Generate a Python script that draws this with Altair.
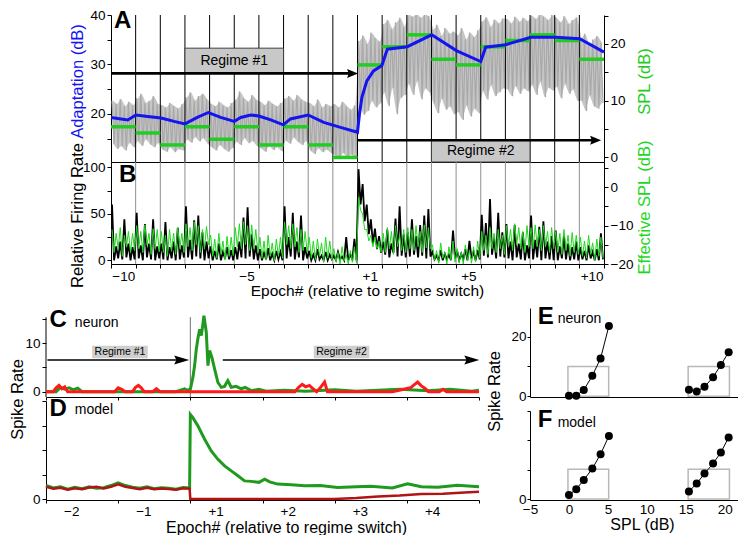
import altair as alt
import pandas as pd

FONT = "Liberation Sans"
BLUE = "#1414f0"
GREEN_A = "#22cc22"
GREEN_B = "#1ed81e"
GREEN_C = "#1f9a1f"
RED_C = "#ff1a1a"
RED_D = "#b01414"

# ---------------- Panel A : stimulus SPL (gray envelope, 6 samples / epoch) ----------------
a_gray_hi = [
    10.0, 9.4, 10.3, 9.0, 9.8, 9.2,
    10.4, 11.2, 9.6, 10.0, 10.8, 9.4,
    9.2, 8.8, 9.6, 9.0, 8.6, 9.4,
    10.6, 11.5, 10.0, 10.8, 11.2, 10.2,
    9.4, 9.0, 9.8, 9.2, 8.8, 9.6,
    10.2, 11.6, 10.4, 9.8, 11.0, 10.1,
    9.8, 9.2, 10.0, 9.4, 9.0, 9.6,
    10.4, 10.8, 10.0, 11.0, 10.2, 9.8,
    9.6, 9.0, 10.2, 8.8, 9.4, 9.0,
    9.4, 8.8, 9.8, 9.0, 8.4, 9.2,
    20.5, 21.5, 20.0, 22.0, 21.0, 20.4,
    23.5, 24.2, 22.6, 23.8, 24.6, 23.0,
    25.2, 24.8, 25.3, 24.6, 25.2, 24.9,
    22.5, 23.4, 21.4, 22.8, 21.8, 22.2,
    21.5, 22.8, 20.8, 22.0, 21.2, 22.4,
    24.0, 24.7, 23.0, 24.3, 23.6, 24.5,
    24.4, 23.6, 24.8, 23.9, 24.6, 24.0,
    25.0, 24.4, 25.3, 24.8, 24.2, 25.1,
    24.6, 23.8, 24.9, 23.5, 24.2, 24.7,
    21.0, 21.8, 19.6, 20.8, 21.4, 20.2,
]
a_gray_lo = [
    2.4, 1.5, 2.0, 1.2, 2.6, 1.8,
    2.9, 2.0, 3.2, 2.3, 1.8, 2.6,
    1.4, 1.0, 1.8, 0.9, 1.5, 1.2,
    3.2, 2.6, 3.6, 2.8, 3.4, 2.4,
    1.8, 1.2, 2.2, 1.5, 1.0, 1.6,
    2.8, 2.2, 3.4, 2.5, 2.9, 2.0,
    1.6, 1.0, 2.0, 1.3, 1.8, 1.1,
    3.0, 2.4, 3.5, 2.7, 2.2, 2.9,
    1.2, 0.6, 1.6, 0.9, 1.4, 0.8,
    0.4, -0.3, 0.8, 0.0, 0.5, -0.2,
    9.0, 7.5, 8.2, 10.0, 8.8, 9.5,
    11.5, 9.0, 12.3, 7.6, 10.5, 11.0,
    13.0, 11.0, 13.5, 10.2, 12.2, 11.5,
    9.5, 7.8, 10.4, 8.4, 9.0, 7.6,
    8.0, 6.6, 9.2, 7.2, 8.6, 7.8,
    11.8, 10.2, 12.8, 10.8, 11.5, 12.2,
    12.0, 10.8, 12.6, 11.2, 12.2, 11.6,
    12.8, 11.0, 13.4, 10.6, 12.3, 11.8,
    12.5, 10.4, 13.0, 11.2, 12.0, 10.0,
    10.0, 8.2, 11.0, 9.0, 8.6, 9.6,
]
a_green_spl = [5.4, 4.3, 2.2, 5.4, 3.2, 5.4, 2.2, 5.4, 2.2, 0.0,
               16.3, 19.5, 21.6, 17.3, 16.3, 19.5, 20.6, 21.6, 20.6, 17.3]
a_blue_x = [0.0, 0.41, 0.68, 1.01, 1.49, 2.03, 2.56, 3.0, 3.5, 3.95, 4.45, 5.0, 5.26,
            5.67, 6.0, 6.48, 6.99, 7.28, 8.0, 8.63, 9.31, 10.0, 10.08, 10.18, 10.38,
            10.65, 10.99, 11.21, 12.02, 13.01, 14.01, 15.0, 15.2, 16.01, 17.03, 18.04,
            19.01, 20.0]
a_blue_y = [19.3, 19.0, 18.8, 19.8, 19.5, 19.2, 18.5, 18.0, 19.3, 20.3, 19.3, 18.5, 19.3,
            19.8, 19.6, 18.8, 17.8, 19.0, 19.8, 18.3, 17.3, 16.3, 20.0, 23.4, 26.7,
            28.7, 29.8, 33.1, 33.6, 36.0, 32.8, 30.6, 33.5, 34.0, 35.5, 35.5,
            35.2, 32.5]
regime_names = ["Regime #1", "Regime #2"]
a_arrow_x = [0.0, 10.0]
a_arrow_x2 = [9.8, 19.66]
a_arrow_y = [28.2, 14.7]
a_box_x = [3.0, 13.0]
a_box_x2 = [7.0, 17.0]
a_box_y = [28.3, 10.3]
a_box_y2 = [33.3, 14.75]

# ---------------- Panel B ----------------
b_black_hi = [
    60, 15, 20, 44, 18, 14,
    51, 16, 39, 18, 44, 15,
    18, 41, 14, 20, 35, 16,
    58, 22, 43, 48, 30, 20,
    15, 10, 18, 9, 14, 11,
    14, 20, 46, 57, 28, 16,
    12, 8, 13, 7, 10, 9,
    58, 25, 51, 20, 48, 14,
    10, 6, 12, 5, 9, 6,
    5, 9, 4, 25, 6, 23,
    98, 82, 60, 44, 34, 26,
    20, 33, 18, 45, 58, 28,
    30, 44, 26, 38, 48, 55,
    9, 5, 11, 7, 6, 32,
    10, 7, 12, 21, 9, 11,
    49, 40, 66, 24, 51, 30,
    39, 20, 38, 18, 30, 16,
    48, 22, 36, 42, 20, 26,
    32, 15, 26, 18, 14, 20,
    14, 10, 16, 9, 12, 29,
]
b_black_lo = [
    0, 2, 1, 3, 0, 1,
    2, 0, 3, 1, 0, 2,
    1, 0, 2, 0, 1, 3,
    3, 1, 4, 2, 0, 2,
    0, 1, 0, 2, 1, 0,
    1, 3, 2, 4, 1, 0,
    0, 1, 0, 0, 1, 0,
    2, 4, 1, 3, 0, 2,
    0, 0, 1, 0, 0, 1,
    0, 1, 0, 0, 1, 0,
    60, 42, 28, 18, 12, 8,
    6, 3, 8, 4, 5, 3,
    4, 6, 3, 5, 2, 4,
    1, 0, 0, 1, 0, 2,
    0, 1, 0, 2, 0, 1,
    5, 3, 6, 2, 4, 3,
    2, 0, 3, 1, 0, 2,
    1, 3, 0, 2, 1, 0,
    0, 2, 1, 0, 1, 0,
    1, 0, 2, 0, 0, 1,
]
b_green_hi = [
    -11, -12, -10.5, -12.5, -11.5, -12,
    -10, -11.5, -9.8, -12, -10.8, -11,
    -11.5, -12.5, -11, -12, -10.5, -12,
    -9.5, -10.5, -9, -10, -11, -10.2,
    -12.5, -13.5, -12, -14, -12.8, -13,
    -10.5, -9.5, -9, -10, -9.8, -11,
    -13, -14, -12.5, -14.5, -13.5, -13,
    -9, -10, -9.5, -10.5, -11, -11.5,
    -13, -14, -13.5, -14.5, -13, -14,
    -16, -17, -15.5, -17.5, -16.5, -15.5,
    -2.6, -7, -11, -12.5, -13, -14,
    -12, -10.5, -11.5, -10, -12.5, -11,
    -10.5, -11, -10, -11.5, -9.8, -10.5,
    -15, -16.5, -14.5, -17, -15.5, -14,
    -16, -17, -15, -16.5, -15.5, -14,
    -11.5, -12.5, -10.5, -12, -11, -12.5,
    -10, -11, -9.5, -10.5, -11.5, -10,
    -10.5, -9.8, -11, -10, -11.5, -10.5,
    -11.5, -12, -11, -12.5, -11.8, -12.5,
    -13, -14, -12.5, -14.5, -13.5, -13,
]
b_green_lo = [
    -17, -16, -18, -15.5, -17, -16.5,
    -16, -17, -15, -17.5, -16, -16.8,
    -17, -18, -16.5, -17.5, -16, -17,
    -15.5, -16.5, -15, -17, -16, -15,
    -18, -18.5, -17.5, -19, -18, -17.8,
    -15.5, -16, -15, -16.5, -16, -17,
    -18.5, -19, -18, -19.2, -18, -18.5,
    -15, -16, -15.5, -17, -16.5, -17,
    -18.5, -19, -18, -19.5, -18.5, -19,
    -19.5, -20, -19.2, -20, -19.5, -19.8,
    -6, -11, -14, -15.5, -16, -17,
    -17, -16, -17.5, -15.5, -16.5, -17,
    -16, -16.5, -15.5, -17, -15.8, -16,
    -19, -19.8, -18.5, -20, -19, -19.5,
    -19.5, -20, -19, -19.8, -19.5, -18.5,
    -16.5, -17.5, -16, -17, -16, -17.5,
    -15.5, -16.5, -15, -16, -17, -15.5,
    -16, -15.5, -16.5, -15.5, -17, -16,
    -17, -17.5, -16.5, -18, -17, -17.5,
    -18, -18.5, -17.5, -19, -18, -18.5,
]
b_label_pos = [0.5, 5.5, 10.5, 14.5, 19.5]
b_label_txt = ["\u221210", "\u22125", "+1", "+5", "+10"]

# ---------------- Panel C / D ----------------
c_green_x = [-2.0, -1.86, -1.8, -1.74, -1.68, -1.62, -1.56, -1.5, -1.2, -0.9, -0.2, -0.08,
             -0.04, 0.0, 0.036, 0.06, 0.083, 0.105, 0.129, 0.152, 0.17, 0.188, 0.205,
             0.221, 0.244, 0.267, 0.299, 0.336, 0.382, 0.429, 0.474, 0.52, 0.567, 0.636,
             0.705, 0.76, 0.85, 0.95, 1.05, 1.3, 1.6, 2.0, 2.3, 2.6, 2.9, 3.3, 3.6, 3.9, 4.0]
c_green_y = [0.0, 0.0, 0.9, 0.5, 0.8, 0.4, 0.7, 0.0, 0.0, 0.0, 0.0, 0.6,
             0.3, 0.5, 3.0, 5.5, 8.8, 11.0, 12.9, 11.6, 13.5, 15.7, 14.0,
             12.3, 5.4, 8.5, 7.1, 4.7, 1.9, 0.9, 1.1, 2.3, 0.9, 1.1,
             0.6, 0.9, 0.2, 0.5, 0.1, 0.3, 0.1, 0.4, 0.1, 0.3, 0.5, 0.2, 0.5, 0.1, 0.3]
c_red_x = [-2.0, -1.9, -1.86, -1.82, -1.78, -1.74, -1.7, -1.2, -1.05, -1.0, -0.95, -0.9,
           -0.8, -0.76, -0.72, -0.68, -0.64, -0.52, -0.47, -0.42, -0.3, 1.45, 1.5, 1.55,
           1.6, 1.65, 1.7, 1.75, 1.8, 1.86, 1.9, 2.8, 3.05, 3.1, 3.15, 3.2, 3.25, 3.3,
           3.45, 3.5, 3.55, 4.0]
c_red_y = [0, 0, 0.8, 1.3, 0.6, 1.0, 0, 0, 0, 0.8, 0.5, 0,
           0, 0.9, 1.3, 0.8, 0, 0, 0.6, 0, 0, 0, 0.9, 1.5,
           1.0, 1.3, 0.6, 0, 0.8, 2.0, 0, 0, 0.8, 1.4, 2.0, 1.2, 0.7, 0,
           0, 0.5, 0, 0]
c_arrow_x = [-1.98, 0.45]
c_arrow_x2 = [-0.12, 3.9]
c_arrow_y = 6.55
c_box_x = [-1.36, 1.71]
c_box_x2 = [-0.59, 2.48]
c_box_y = [6.9, 6.9]
c_box_y2 = [9.5, 9.5]

d_green_x = [-2.0, -1.9, -1.8, -1.7, -1.6, -1.5, -1.4, -1.3, -1.2, -1.1, -1.0, -0.9, -0.8,
             -0.7, -0.6, -0.5, -0.4, -0.3, -0.2, -0.1, -0.01,
             0.0, 0.037, 0.106, 0.198, 0.29, 0.382, 0.475, 0.567, 0.659, 0.751, 0.843,
             0.95, 1.03, 1.1, 1.21, 1.4, 1.58, 1.8, 2.04, 2.3, 2.5, 2.8, 3.01, 3.2, 3.43,
             3.7, 4.0]
d_green_y = [0.55, 0.45, 0.5, 0.4, 0.48, 0.42, 0.5, 0.44, 0.46, 0.55, 0.66, 0.55, 0.48,
             0.44, 0.5, 0.42, 0.46, 0.44, 0.4, 0.47, 0.45,
             3.45, 3.31, 2.98, 2.44, 1.96, 1.62, 1.35, 1.15, 0.95, 0.74, 0.72,
             0.68, 0.81, 0.7, 0.61, 0.58, 0.54, 0.55, 0.47, 0.5, 0.52, 0.45, 0.62, 0.5, 0.48,
             0.56, 0.5]
d_red_x = [-2.0, -1.9, -1.8, -1.7, -1.6, -1.5, -1.4, -1.3, -1.2, -1.1, -1.0, -0.9, -0.8,
           -0.7, -0.6, -0.5, -0.4, -0.3, -0.2, -0.1, -0.01,
           0.0, 1.0, 2.0, 2.3, 2.6, 2.9, 3.2, 3.5, 3.8, 4.0]
d_red_y = [0.5, 0.42, 0.46, 0.38, 0.44, 0.4, 0.47, 0.5, 0.43, 0.5, 0.6, 0.5, 0.45,
           0.4, 0.46, 0.4, 0.43, 0.41, 0.38, 0.44, 0.42,
           0.0, 0.0, 0.0, 0.04, 0.1, 0.14, 0.2, 0.22, 0.27, 0.3]
cd_label_pos = [-1.65, -0.65, 0.35, 1.35, 2.35, 3.35]
cd_label_txt = ["\u22122", "\u22121", "+1", "+2", "+3", "+4"]

# ---------------- Panel E / F ----------------
ef_spl_1 = [0.0, 0.94, 1.9, 3.0, 4.06, 5.13]
ef_spl_2 = [15.4, 16.4, 17.4, 18.5, 19.5, 20.5]
e_rate_1 = [0.2, 0.2, 2.1, 6.9, 12.7, 23.6]
e_rate_2 = [2.2, 1.6, 3.2, 6.4, 10.5, 14.8]
f_rate_1 = [0.14, 0.34, 0.65, 1.04, 1.53, 2.15]
f_rate_2 = [0.26, 0.53, 0.87, 1.21, 1.59, 2.10]
ef_box_x = [-0.13, 15.3]
ef_box_x2 = [5.1, 20.6]
e_box_top = 10.0
f_box_top = 1.02

HEAD_A = "M-1,-0.82L1,0L-1,0.82L-0.7,0Z"
HEAD_C = "M-1,-0.6L1,0L-1,0.6L-0.7,0Z"
TICK_INT = {"condition": {"test": "datum.value % 1 === 0", "value": 1}, "value": 0}
EVERY10 = "datum.value % 10 === 0 ? datum.label : ''"


def zig(hi, lo, per=6):
    xs, vs = [], []
    for i, (h, l) in enumerate(zip(hi, lo)):
        xs += [(i + 0.25) / per, (i + 0.75) / per]
        vs += [h, l]
    return pd.DataFrame({"x": xs, "v": vs})


def band(hi, lo, per=6):
    return pd.DataFrame({"x": [(i + 0.5) / per for i in range(len(hi))], "v": hi, "v2": lo})


def label_expr(pos, txt):
    expr = "''"
    for p, t in reversed(list(zip(pos, txt))):
        expr = f"datum.value === {p} ? '{t}' : ({expr})"
    return expr


def txt(df, size=14, bold=False, align="left", color="black"):
    return alt.Chart(df).mark_text(font=FONT, fontSize=size, fontWeight="bold" if bold else "normal",
                                   align=align, baseline="middle", color=color)


# ======================= Panel A =======================
xA = alt.X("x:Q", scale=alt.Scale(domain=[0, 20], nice=False, zero=False),
           axis=alt.Axis(labels=False, ticks=False, title=None, domain=True))
scA_l = alt.Scale(domain=[10.3, 40], nice=False, zero=False)
scA_r = alt.Scale(domain=[-0.81, 25.1], nice=False, zero=False)
yA_l = alt.Y("v:Q", scale=scA_l,
             axis=alt.Axis(orient="left", values=[15, 20, 25, 30, 35, 40], labelExpr=EVERY10,
                           title="Adaptation (dB)", titleColor=BLUE, titleAngle=270,
                           titleBaseline="bottom", titleAlign="center", titleX=-26, titleY=66))
yA_r = alt.Y("v:Q", scale=scA_r,
             axis=alt.Axis(orient="right", values=[0, 5, 10, 15, 20, 25], labelExpr=EVERY10,
                           title="SPL (dB)", titleColor=GREEN_A, titleAngle=270,
                           titleBaseline="bottom", titleAlign="center", titleX=48, titleY=66))
yA_r2 = alt.Y("v:Q", scale=scA_r, axis=None)

vl_df = pd.DataFrame({"x": list(range(1, 20))})
a_band = alt.Chart(band(a_gray_hi, a_gray_lo)).mark_area(color="#c6c6c6", opacity=1, clip=True) \
    .encode(x=xA, y=yA_r, y2="v2:Q")
a_gray = alt.Chart(zig(a_gray_hi, a_gray_lo)).mark_line(color="#a9a9a9", strokeWidth=1.2, clip=True).encode(x=xA, y=yA_r2)
a_vl = alt.Chart(vl_df).mark_rule(color="black", strokeWidth=1).encode(x=xA)
a_green = alt.Chart(pd.DataFrame({"x": list(range(20)), "x2": list(range(1, 21)), "v": a_green_spl})) \
    .mark_rule(color=GREEN_A, strokeWidth=3.5).encode(x=xA, x2="x2:Q", y=yA_r2)
a_blue = alt.Chart(pd.DataFrame({"x": a_blue_x, "v": a_blue_y})).mark_line(color=BLUE, strokeWidth=3).encode(x=xA, y=yA_l)
a_boxes = alt.Chart(pd.DataFrame({"x": a_box_x, "x2": a_box_x2, "v": a_box_y, "v2": a_box_y2})) \
    .mark_rect(fill="#c8c8c8", stroke="#404040", strokeWidth=1).encode(x=xA, x2="x2:Q", y=yA_l, y2="v2:Q")
a_boxtxt = txt(pd.DataFrame({"x": [5.0, 15.0], "v": [30.8, 12.5], "t": regime_names}), size=14, align="center") \
    .encode(x=xA, y=yA_l, text="t:N")
a_arrows = alt.Chart(pd.DataFrame({"x": a_arrow_x, "x2": a_arrow_x2, "v": a_arrow_y})) \
    .mark_rule(color="black", strokeWidth=2.6).encode(x=xA, x2="x2:Q", y=yA_l)
a_heads = alt.Chart(pd.DataFrame({"x": a_arrow_x2, "v": a_arrow_y})) \
    .mark_point(shape=HEAD_A, filled=True, size=121, color="black", opacity=1).encode(x=xA, y=yA_l)
a_letter = txt(pd.DataFrame({"x": [0.12], "v": [38.7], "t": ["A"]}), size=24, bold=True).encode(x=xA, y=yA_l, text="t:N")
a_left = alt.layer(a_blue, a_boxes, a_boxtxt, a_arrows, a_heads, a_letter)
panelA = alt.layer(a_band, a_gray, a_vl, a_green, a_left).resolve_scale(y="independent") \
    .properties(width=493, height=147)

# ======================= Panel B =======================
xB = alt.X("x:Q", scale=alt.Scale(domain=[0, 20], nice=False, zero=False),
           axis=alt.Axis(values=list(range(21)) + b_label_pos, labelExpr=label_expr(b_label_pos, b_label_txt),
                         tickOpacity=TICK_INT, labelPadding=1, title="Epoch# (relative to regime switch)",
                         titleFontSize=15.5, titleX=256, titleY=19, titleBaseline="top"))
yB_l = alt.Y("v:Q", scale=alt.Scale(domain=[-4, 105.7], nice=False, zero=False),
             axis=alt.Axis(orient="left", values=[0, 25, 50, 75, 100], labelExpr="datum.value % 50 === 0 ? datum.label : ''",
                           title="Relative Firing Rate", titleAngle=270, titleBaseline="bottom",
                           titleAlign="center", titleX=-26, titleY=53))
yB_r = alt.Y("v:Q", scale=alt.Scale(domain=[-20, 6.6], nice=False, zero=False),
             axis=alt.Axis(orient="right", values=[5, 0, -5, -10, -15, -20], labelExpr=EVERY10,
                           title="Effective SPL (dB)", titleColor=GREEN_B, titleAngle=270,
                           titleBaseline="bottom", titleAlign="center", titleX=48, titleY=45))
b_vl = alt.Chart(vl_df).mark_rule(color="#8f8f8f", strokeWidth=1).encode(x=xB)
b_black = alt.Chart(zig(b_black_hi, b_black_lo)).mark_line(color="black", strokeWidth=1.8, clip=True).encode(x=xB, y=yB_l)
b_letter = txt(pd.DataFrame({"x": [0.32], "v": [91.5], "t": ["B"]}), size=24, bold=True).encode(x=xB, y=yB_l, text="t:N")
b_green = alt.Chart(zig(b_green_hi, b_green_lo)).mark_line(color=GREEN_B, strokeWidth=1.0, clip=True).encode(x=xB, y=yB_r)
panelB = alt.layer(b_vl, alt.layer(b_black, b_letter), b_green).resolve_scale(y="independent") \
    .properties(width=493, height=102)

# ======================= Panel C =======================
scCD_x = alt.Scale(domain=[-2, 4], nice=False, zero=False)
xC = alt.X("x:Q", scale=scCD_x, axis=alt.Axis(values=[-2, -1, 0, 1, 2, 3, 4], labels=False, title=None, tickSize=3))
yC = alt.Y("v:Q", scale=alt.Scale(domain=[-1.1, 17.3], nice=False, zero=False),
           axis=alt.Axis(values=[0, 5, 10, 15], labelExpr=EVERY10, title=None, domain=False))
c_spine = alt.Chart(pd.DataFrame({"x": [-2.0], "v": [-1.1], "v2": [15.4]})).mark_rule(color="black", strokeWidth=1) \
    .encode(x=xC, y=yC, y2="v2:Q")
c_switch = alt.Chart(pd.DataFrame({"x": [0.0], "v": [-1.1], "v2": [15.4]})).mark_rule(color="#707070", strokeWidth=1) \
    .encode(x=xC, y=yC, y2="v2:Q")
c_boxes = alt.Chart(pd.DataFrame({"x": c_box_x, "x2": c_box_x2, "v": c_box_y, "v2": c_box_y2})) \
    .mark_rect(fill="#cfcfcf").encode(x=xC, x2="x2:Q", y=yC, y2="v2:Q")
c_boxtxt = txt(pd.DataFrame({"x": [(a + b) / 2 for a, b in zip(c_box_x, c_box_x2)], "v": [8.2, 8.2], "t": regime_names}),
               size=10.5, align="center").encode(x=xC, y=yC, text="t:N")
c_arrows = alt.Chart(pd.DataFrame({"x": c_arrow_x, "x2": c_arrow_x2, "v": [c_arrow_y] * 2})) \
    .mark_rule(color="black", strokeWidth=1.5).encode(x=xC, x2="x2:Q", y=yC)
c_heads = alt.Chart(pd.DataFrame({"x": c_arrow_x2, "v": [c_arrow_y] * 2})) \
    .mark_point(shape=HEAD_C, filled=True, size=225, color="black", opacity=1).encode(x=xC, y=yC)
c_green = alt.Chart(pd.DataFrame({"x": c_green_x, "v": c_green_y})).mark_line(color=GREEN_C, strokeWidth=3).encode(x=xC, y=yC)
c_red = alt.Chart(pd.DataFrame({"x": c_red_x, "v": c_red_y})).mark_line(color=RED_C, strokeWidth=3).encode(x=xC, y=yC)
c_letter = txt(pd.DataFrame({"x": [-1.95], "v": [14.9], "t": ["C"]}), size=24, bold=True).encode(x=xC, y=yC, text="t:N")
c_word = txt(pd.DataFrame({"x": [-1.6], "v": [14.2], "t": ["neuron"]}), size=14).encode(x=xC, y=yC, text="t:N")
panelC = alt.layer(c_spine, c_switch, c_boxes, c_boxtxt, c_arrows, c_heads, c_green, c_red, c_letter, c_word) \
    .properties(width=433, height=89)

# ======================= Panel D =======================
xD = alt.X("x:Q", scale=scCD_x,
           axis=alt.Axis(values=[-2, -1, 0, 1, 2, 3, 4] + cd_label_pos, labelExpr=label_expr(cd_label_pos, cd_label_txt),
                         tickOpacity=TICK_INT, tickSize=3, labelPadding=1,
                         title="Epoch# (relative to regime switch)", titleFontSize=16,
                         titleX=240, titleY=19, titleBaseline="top"))
yD = alt.Y("v:Q", scale=alt.Scale(domain=[-0.04, 4.0], nice=False, zero=False),
           axis=alt.Axis(values=[0, 1, 2, 3, 4], labelExpr="datum.value === 0 ? '0' : ''", title="Spike Rate",
                         titleAngle=270, titleBaseline="bottom", titleAlign="center", titleX=-21, titleY=-2))
d_green = alt.Chart(pd.DataFrame({"x": d_green_x, "v": d_green_y})).mark_line(color=GREEN_C, strokeWidth=3).encode(x=xD, y=yD)
d_red = alt.Chart(pd.DataFrame({"x": d_red_x, "v": d_red_y})).mark_line(color=RED_D, strokeWidth=2.5).encode(x=xD, y=yD)
d_letter = txt(pd.DataFrame({"x": [-1.95], "v": [3.66], "t": ["D"]}), size=24, bold=True).encode(x=xD, y=yD, text="t:N")
d_word = txt(pd.DataFrame({"x": [-1.6], "v": [3.62], "t": ["model"]}), size=14).encode(x=xD, y=yD, text="t:N")
panelD = alt.layer(d_green, d_red, d_letter, d_word).properties(width=433, height=99)

# ======================= Panel E / F =======================
scEF_x = alt.Scale(domain=[-5, 21.7], nice=False, zero=False)
ef_pts = pd.DataFrame({"x": ef_spl_1 + ef_spl_2, "e": e_rate_1 + e_rate_2, "f": f_rate_1 + f_rate_2,
                       "g": ["r1"] * 6 + ["r2"] * 6})
xE = alt.X("x:Q", scale=scEF_x, axis=alt.Axis(labels=False, ticks=False, title=None))
scE_y = alt.Scale(domain=[-0.23, 29.6], nice=False, zero=False)
axE_y = alt.Axis(values=[0, 10, 20], labelExpr="datum.value % 20 === 0 ? datum.label : ''", title=None,
                 tickSize=3, labelPadding=1)
yE = alt.Y("v:Q", scale=scE_y, axis=axE_y)
yE_pts = alt.Y("e:Q", scale=scE_y, axis=axE_y)
e_box = alt.Chart(pd.DataFrame({"x": ef_box_x, "x2": ef_box_x2, "v": [0, 0], "v2": [e_box_top] * 2})) \
    .mark_rect(fill=None, stroke="#b8b8b8", strokeWidth=1.5).encode(x=xE, x2="x2:Q", y=yE, y2="v2:Q")
e_line = alt.Chart(ef_pts).mark_line(color="black", strokeWidth=1).encode(x=xE, y=yE_pts, detail="g:N")
e_dots = alt.Chart(ef_pts).mark_circle(color="black", size=64, opacity=1).encode(x=xE, y=yE_pts)
e_letter = txt(pd.DataFrame({"x": [-4.0], "v": [26.6], "t": ["E"]}), size=24, bold=True).encode(x=xE, y=yE, text="t:N")
e_word = txt(pd.DataFrame({"x": [-1.45], "v": [25.8], "t": ["neuron"]}), size=14).encode(x=xE, y=yE, text="t:N")
panelE = alt.layer(e_box, e_line, e_dots, e_letter, e_word).properties(width=208, height=89)

xF = alt.X("x:Q", scale=scEF_x,
           axis=alt.Axis(values=[-5, 0, 5, 10, 15, 20], ticks=False, labelPadding=2, title="SPL (dB)", titleFontSize=16,
                         titleX=112, titleY=16, titleBaseline="top"))
scF_y = alt.Scale(domain=[-0.03, 3.0], nice=False, zero=False)
axF_y = alt.Axis(values=[0, 1, 2, 3], labelExpr="datum.value === 0 ? '0' : ''", title="Spike Rate",
                 tickSize=3, labelPadding=1, titleAngle=270, titleBaseline="bottom", titleAlign="center",
                 titleX=-28, titleY=-20)
yF = alt.Y("v:Q", scale=scF_y, axis=axF_y)
yF_pts = alt.Y("f:Q", scale=scF_y, axis=axF_y)
f_box = alt.Chart(pd.DataFrame({"x": ef_box_x, "x2": ef_box_x2, "v": [0, 0], "v2": [f_box_top] * 2})) \
    .mark_rect(fill=None, stroke="#b8b8b8", strokeWidth=1.5).encode(x=xF, x2="x2:Q", y=yF, y2="v2:Q")
f_line = alt.Chart(ef_pts).mark_line(color="black", strokeWidth=1).encode(x=xF, y=yF_pts, detail="g:N")
f_dots = alt.Chart(ef_pts).mark_circle(color="black", size=64, opacity=1).encode(x=xF, y=yF_pts)
f_letter = txt(pd.DataFrame({"x": [-4.0], "v": [2.7], "t": ["F"]}), size=24, bold=True).encode(x=xF, y=yF, text="t:N")
f_word = txt(pd.DataFrame({"x": [-1.45], "v": [2.6], "t": ["model"]}), size=14).encode(x=xF, y=yF, text="t:N")
panelF = alt.layer(f_box, f_line, f_dots, f_letter, f_word).properties(width=208, height=89)

# ======================= Layout =======================
spacer = alt.Chart(pd.DataFrame({"x": [0.5]})).mark_rule(opacity=0).encode(
    x=alt.X("x:Q", axis=None, scale=alt.Scale(domain=[0, 1]))).properties(width=22, height=1)

top = alt.hconcat(spacer, alt.vconcat(panelA, panelB, spacing=0, bounds="flush"), spacing=0)
bottom = alt.hconcat(alt.vconcat(panelC, panelD, spacing=4, bounds="flush"),
                     alt.vconcat(panelE, panelF, spacing=14, bounds="flush"), spacing=1)
chart = alt.vconcat(top, bottom, spacing=5).properties(padding=0) \
    .configure_view(stroke=None) \
    .configure_axis(labelFont=FONT, titleFont=FONT, labelFontSize=13.5, titleFontSize=16.5,
                    titleFontWeight="normal", domainColor="black", tickColor="black", labelColor="black",
                    titleColor="black", grid=False, labelOverlap=False, labelFlush=False, tickSize=4,
                    labelPadding=2)

chart.save("out.html", embed_options={"renderer": "svg", "actions": False})
